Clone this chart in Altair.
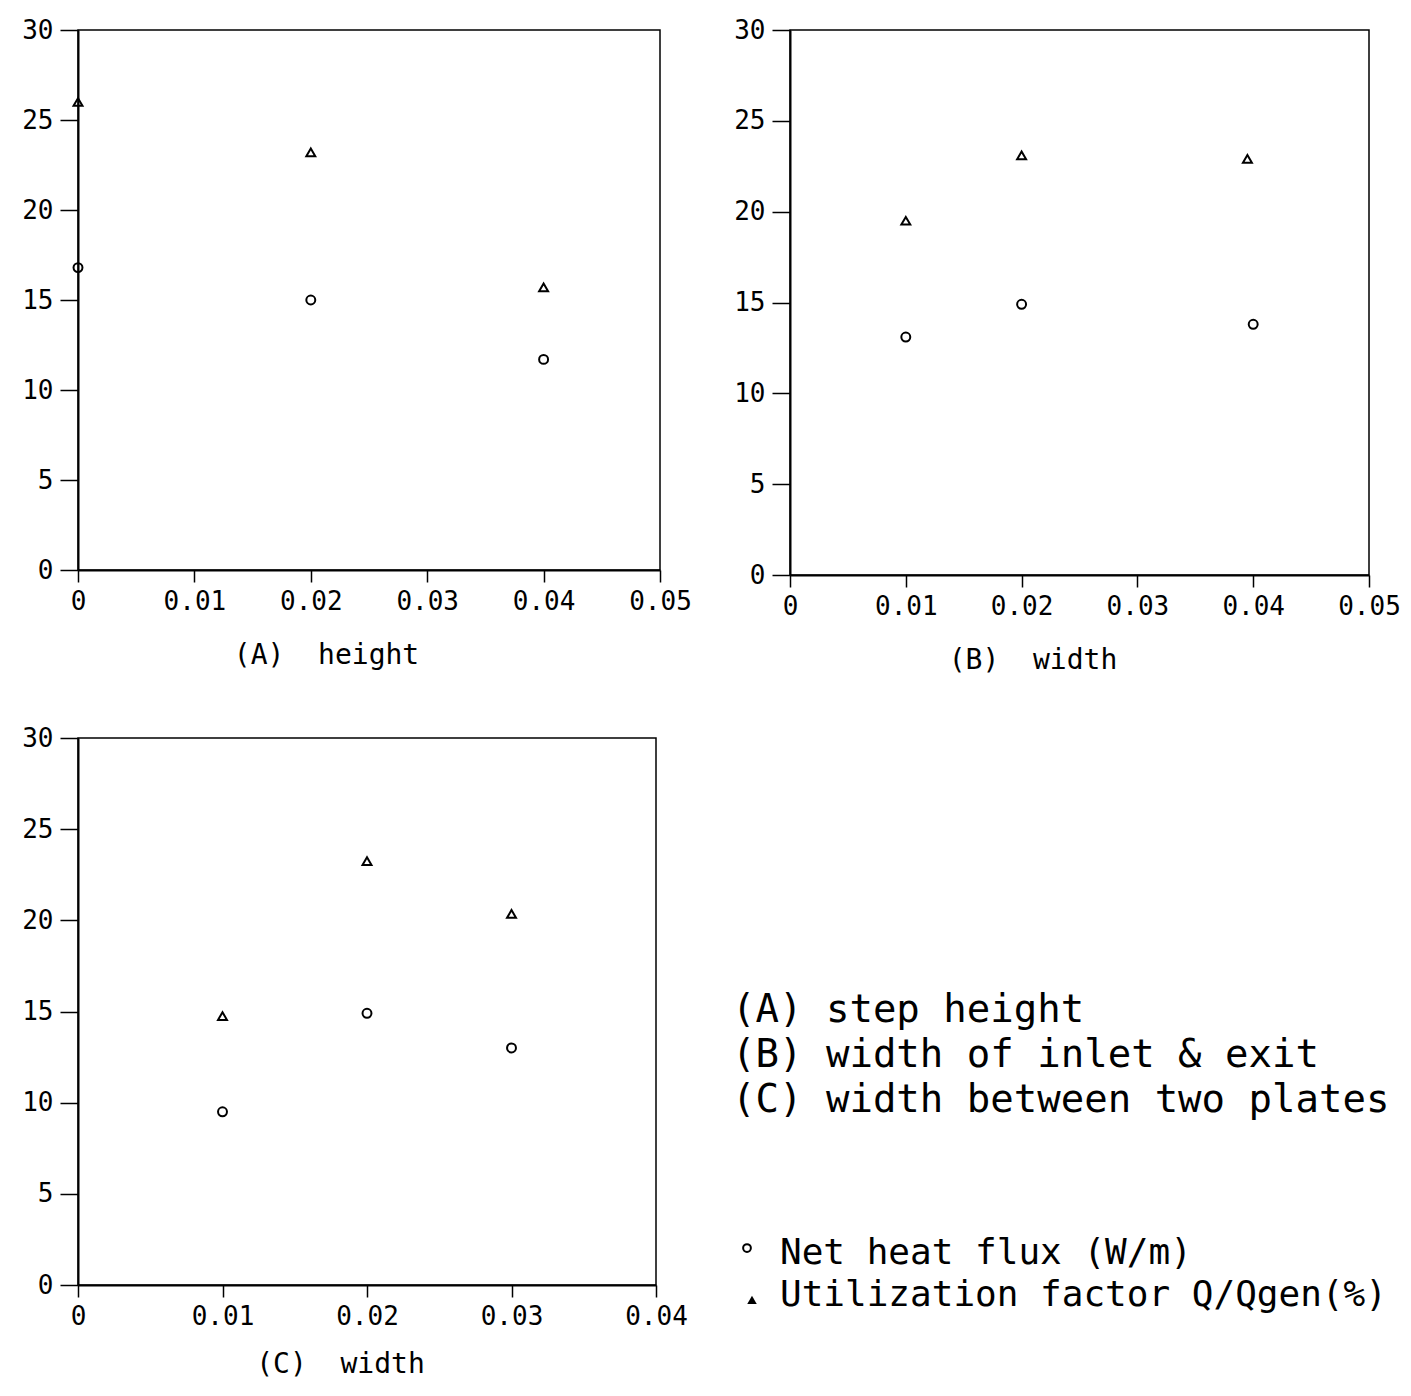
import altair as alt
import pandas as pd

# ---------------- data ----------------
a_x_circle = [0.0, 0.02, 0.04]
a_circle = [16.8, 15.0, 11.7]
a_x_tri = [0.0, 0.02, 0.04]
a_tri = [26.0, 23.2, 15.7]

b_x_circle = [0.01, 0.02, 0.04]
b_circle = [13.1, 14.9, 13.8]
b_x_tri = [0.01, 0.02, 0.0395]
b_tri = [19.5, 23.1, 22.9]

c_x_circle = [0.01, 0.02, 0.03]
c_circle = [9.5, 14.9, 13.0]
c_x_tri = [0.01, 0.02, 0.03]
c_tri = [14.75, 23.25, 20.35]

a_xticks = [0, 0.01, 0.02, 0.03, 0.04, 0.05]
c_xticks = [0, 0.01, 0.02, 0.03, 0.04]
yticks = [0, 5, 10, 15, 20, 25, 30]

panel_titles = ["(A)  height", "(B)  width", "(C)  width"]

key_lines = ["(A) step height", "(B) width of inlet & exit", "(C) width between two plates"]
series_names = ["Net heat flux (W/m)", "Utilization factor Q/Qgen(%)"]

FONT = "DejaVu Sans Mono"
NB = "\u00a0"


def panel(xc, yc, xt, yt, xmax, xticks, title, w, h, title_shift, title_pad=27):
    df = pd.DataFrame(
        {
            "x": list(xc) + list(xt),
            "y": list(yc) + list(yt),
            "s": ["circle"] * len(xc) + ["triangle"] * len(xt),
        }
    )
    xax = alt.Axis(
        values=xticks,
        labelExpr="datum.value == 0 ? '0' : format(datum.value, '.2f')",
        title=title.replace(" ", NB),
        titleFontSize=28,
        titleFontWeight="normal",
        titleFont=FONT,
        titlePadding=title_pad,
        titleX=w / 2 - title_shift,
        titleColor="black",
        grid=False,
        tickSize=12,
        labelPadding=6,
        labelFontSize=26,
        labelFont=FONT,
        labelColor="black",
        domainColor="black",
        tickColor="black",
        domainWidth=2,
        tickWidth=1.5,
        labelFlush=False,
    )
    yax = alt.Axis(
        values=yticks,
        title=None,
        grid=False,
        tickSize=18,
        labelPadding=7,
        labelFontSize=26,
        labelFont=FONT,
        labelColor="black",
        domainColor="black",
        tickColor="black",
        domainWidth=2,
        tickWidth=1.5,
        labelFlush=False,
    )
    base = alt.Chart(df).encode(
        x=alt.X("x:Q", scale=alt.Scale(domain=[0, xmax], nice=False, zero=False), axis=xax),
        y=alt.Y("y:Q", scale=alt.Scale(domain=[0, 30], nice=False), axis=yax),
    )
    circles = base.transform_filter(alt.datum.s == "circle").mark_point(
        shape="circle", size=80, filled=False, color="black", strokeWidth=2, opacity=1
    )
    tris = base.transform_filter(alt.datum.s == "triangle").mark_point(
        shape="triangle-up", size=80, filled=False, color="black", strokeWidth=2, opacity=1
    )
    return (circles + tris).properties(width=w, height=h)


pa = panel(a_x_circle, a_circle, a_x_tri, a_tri, 0.05, a_xticks, panel_titles[0], 582, 540, 43)
pb = panel(b_x_circle, b_circle, b_x_tri, b_tri, 0.05, a_xticks, panel_titles[1], 579, 545, 47)
pc = panel(c_x_circle, c_circle, c_x_tri, c_tri, 0.04, c_xticks, panel_titles[2], 578, 547, 27,
           title_pad=21)

# ---------------- key panel ----------------
rows = list(range(len(key_lines))) + [5.41 + i * 0.93 for i in range(len(series_names))]
key_df = pd.DataFrame(
    {
        "row": rows,
        "label": [s.replace(" ", NB) for s in key_lines + series_names],
        "kind": ["key"] * len(key_lines) + ["circle", "triangle"],
    }
)
ysc = alt.Scale(domain=[-6.35, 5.81], reverse=True)
kbase = alt.Chart(key_df).encode(y=alt.Y("row:Q", scale=ysc, axis=None))
key_text = kbase.transform_filter(alt.datum.kind == "key").mark_text(
    align="left", baseline="middle", font=FONT, fontSize=39, color="black"
).encode(x=alt.value(0), text="label:N")
ser_text = kbase.transform_filter(alt.datum.kind != "key").mark_text(
    align="left", baseline="middle", font=FONT, fontSize=36, color="black"
).encode(x=alt.value(48), text="label:N")
sym_c = kbase.transform_filter(alt.datum.kind == "circle").mark_point(
    shape="circle", size=60, filled=False, color="black", strokeWidth=2, opacity=1
).encode(x=alt.value(15), yOffset=alt.value(-5))
sym_t = kbase.transform_filter(alt.datum.kind == "triangle").mark_point(
    shape="triangle-up", size=90, filled=True, color="black", opacity=1
).encode(x=alt.value(20), yOffset=alt.value(5))

key_panel = (key_text + ser_text + sym_c + sym_t).properties(
    width=640, height=547, view=alt.ViewBackground(strokeOpacity=0)
)

chart = (
    alt.concat(pa, pb, pc, key_panel, columns=2, align="none",
               spacing={"row": 49, "column": 39})
    .properties(padding={"left": 12, "top": 8, "right": 0, "bottom": 2})
    .configure(background="white")
    .configure_view(stroke="black", strokeWidth=1.5)
)

chart.save("out.html", embed_options={"renderer": "svg", "actions": False})
